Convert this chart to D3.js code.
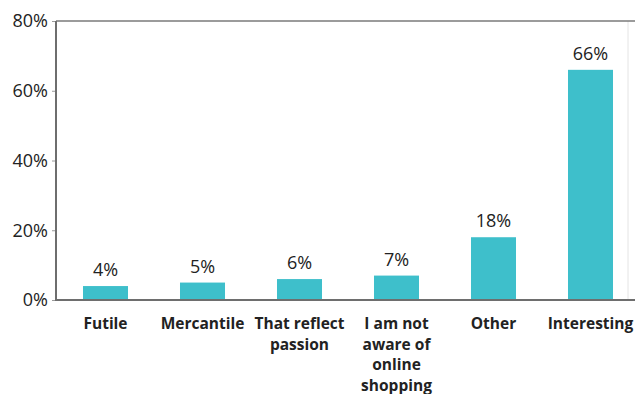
<!DOCTYPE html>
<html>
<head>
<meta charset="utf-8">
<script src="https://cdn.jsdelivr.net/npm/d3@7"></script>
<style>
  html, body { margin: 0; padding: 0; background: #fff; }
  svg { display: block; }
</style>
</head>
<body>
<svg id="chart" width="635" height="394"></svg>
<script>
// Survey responses: how respondents describe online shopping
const categories = [
  ["Futile"],
  ["Mercantile"],
  ["That reflect", "passion"],
  ["I am not", "aware of", "online", "shopping"],
  ["Other"],
  ["Interesting"]
];
const shares = [4, 5, 6, 7, 18, 66];
const yTicks = [0, 20, 40, 60, 80];

const svg = d3.select("#chart");
const plotLeft = 56, plotTop = 21, plotBottom = 300, plotRight = 635;

const keys = categories.map(c => c.join(" "));
const x = d3.scaleBand()
  .domain(keys)
  .range([57, 639])
  .paddingInner(0.536)
  .paddingOuter(0.268);

const y = d3.scaleLinear().domain([0, 80]).range([plotBottom, plotTop]);

// faint right border of the plot frame
svg.append("line")
  .attr("x1", 628).attr("x2", 628)
  .attr("y1", plotTop).attr("y2", plotBottom)
  .attr("stroke", "#e4e4e4").attr("stroke-width", 1);

// bars
svg.append("g").selectAll("rect")
  .data(shares)
  .join("rect")
  .attr("x", (d, i) => x(keys[i]))
  .attr("width", x.bandwidth())
  .attr("y", d => y(d))
  .attr("height", d => y(0) - y(d))
  .attr("fill", "#3ebfcb");

// value labels
svg.append("g").selectAll("text")
  .data(shares)
  .join("text")
  .attr("x", (d, i) => x(keys[i]) + x.bandwidth() / 2)
  .attr("y", d => y(d) - 10)
  .attr("text-anchor", "middle")
  .attr("font-family", "'Open Sans', sans-serif")
  .attr("font-size", 18)
  .attr("fill", "#222")
  .text(d => d + "%");

// y axis
const yAxis = d3.axisLeft(y)
  .tickValues(yTicks)
  .tickFormat(d => d + "%")
  .tickSize(4)
  .tickPadding(4);
const gy = svg.append("g")
  .attr("transform", `translate(${plotLeft},0)`)
  .call(yAxis);
gy.select(".domain").remove();
gy.selectAll(".tick line").attr("stroke", "#9a9a9a").attr("stroke-width", 1);
gy.selectAll(".tick text")
  .attr("font-family", "'Open Sans', sans-serif")
  .attr("font-size", 18)
  .attr("fill", "#222");

// frame lines: top, left, bottom
svg.append("line")
  .attr("x1", plotLeft).attr("x2", plotRight)
  .attr("y1", plotTop).attr("y2", plotTop)
  .attr("stroke", "#7a7a7a").attr("stroke-width", 1.5);
svg.append("line")
  .attr("x1", plotLeft).attr("x2", plotLeft)
  .attr("y1", plotTop).attr("y2", plotBottom)
  .attr("stroke", "#6e6e6e").attr("stroke-width", 2);
svg.append("line")
  .attr("x1", plotLeft - 1).attr("x2", plotRight)
  .attr("y1", plotBottom).attr("y2", plotBottom)
  .attr("stroke", "#6e6e6e").attr("stroke-width", 2);

// category labels
const xl = svg.append("g");
categories.forEach((lines, i) => {
  const cx = x(keys[i]) + x.bandwidth() / 2;
  const t = xl.append("text")
    .attr("x", cx)
    .attr("y", 329)
    .attr("text-anchor", "middle")
    .attr("font-family", "'Open Sans', sans-serif")
    .attr("font-weight", "bold")
    .attr("font-size", 15.5)
    .attr("fill", "#222");
  lines.forEach((ln, j) => {
    t.append("tspan")
      .attr("x", cx)
      .attr("dy", j === 0 ? 0 : 20.5)
      .text(ln);
  });
});
</script>
</body>
</html>
